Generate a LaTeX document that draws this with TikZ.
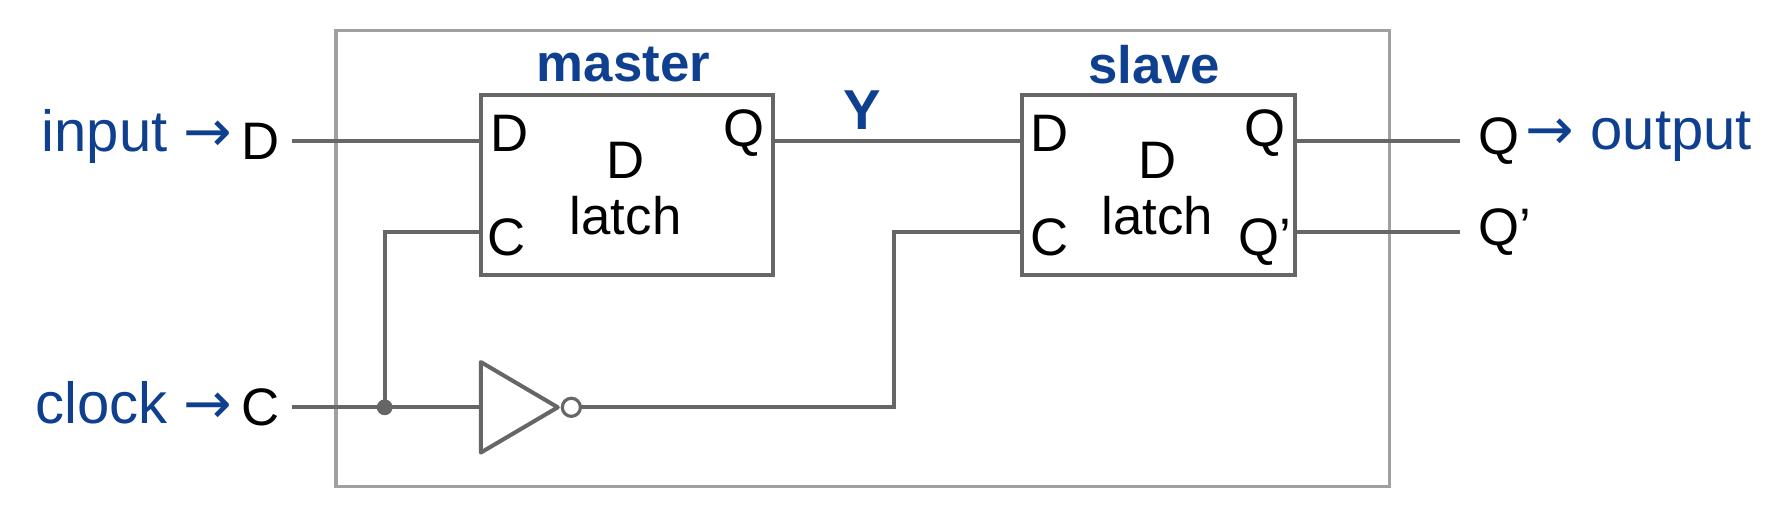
\documentclass[tikz,border=0pt]{standalone}
\usepackage{fontspec}
\setmainfont{Liberation Sans}
\newfontfamily\arrfont{DejaVu Sans}
\definecolor{wire}{HTML}{666666}
\definecolor{frame}{HTML}{A0A0A0}
\definecolor{lbl}{HTML}{0F3F8F}
\begin{document}
\begin{tikzpicture}[x=0.011314cm,y=-0.011314cm,
  wirel/.style={draw=wire,line width=1.15pt},
  latchbox/.style={draw=wire,line width=1.15pt},
  pin/.style={font=\fontsize{15}{17}\selectfont,inner sep=0pt},
  io/.style={font=\fontsize{15}{17}\selectfont,inner sep=0pt},
  bluelbl/.style={font=\fontsize{16.5}{19}\selectfont,text=lbl,inner sep=0pt},
  title/.style={font=\fontsize{15}{17}\selectfont\bfseries,text=lbl,inner sep=0pt}]
\useasboundingbox (0,0) rectangle (1568,454);
\draw[draw=frame,line width=0.9pt] (297,27) rectangle (1228,430);
\draw[latchbox] (425,84) rectangle (683,243);
\draw[latchbox] (903,84) rectangle (1145,243);
\node[title] (mt) at (551,57) {master};
\node[title] (st) at (1020,57) {slave};
\node[title,font=\fontsize{16}{18}\selectfont\bfseries] (Y) at (762,97) {Y};
\node[pin] (mD) at (450,118) {D};
\node[pin] (mC) at (448,210) {C};
\node[pin] (mQ) at (658,118) {Q};
\node[pin,align=center] (mL) at (553,167) {D\\[-1pt]latch};
\node[pin] (sD) at (928,118) {D};
\node[pin] (sC) at (928,210) {C};
\node[pin] (sQ) at (1118,118) {Q};
\node[pin] (sQp) at (1118,214) {Q’};
\node[pin,align=center] (sL) at (1023,167) {D\\[-1pt]latch};
\node[io,anchor=west] (inD) at (213,125) {D};
\node[io,anchor=west] (inC) at (213,360) {C};
\node[bluelbl,anchor=east] (inlbl) at (206,121) {input {\arrfont →}};
\node[bluelbl,anchor=east] (cklbl) at (206,356) {clock {\arrfont →}};
\node[io,anchor=west] (oQ) at (1306,125) {Q};
\node[io,anchor=west] (oQp) at (1306,205) {Q’};
\node[bluelbl,anchor=west] (outlbl) at (1348,121) {{\arrfont →} output};
\coordinate (invin) at (425,360);
\draw[wirel,line join=round] (425,320) -- (493,360) -- (425,400) -- cycle;
\draw[draw=wire,line width=0.9pt,fill=white] (505,360) circle (8);
\coordinate (dot) at (340,360);
\draw[wirel] (258,125) -- (425,125);
\draw[wirel] (683,125) -- (903,125);
\draw[wirel] (1145,125) -- (1290,125);
\draw[wirel] (1145,205) -- (1290,205);
\draw[wirel] (258,360) -- (invin);
\draw[wirel] (dot) -- (340,205) -- (425,205);
\draw[wirel] (513,360) -- (790,360) -- (790,205) -- (903,205);
\fill[wire] (dot) circle (7);
\end{tikzpicture}
\end{document}
